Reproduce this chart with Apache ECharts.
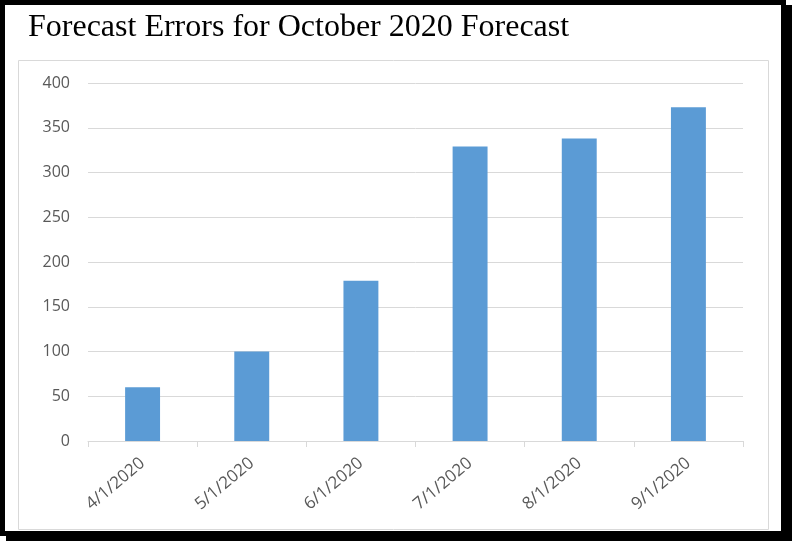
<!DOCTYPE html>
<html>
<head>
<meta charset="utf-8">
<script src="https://cdn.jsdelivr.net/npm/echarts@6/dist/echarts.min.js"></script>
<style>
    html, body { margin: 0; padding: 0; background: #fff; }
    #frame {
        position: absolute; left: 0; top: 0;
        width: 786px; height: 536px;
        box-sizing: border-box;
        border: 5px solid #000;
        box-shadow: 6px 5px 0 #000;
    }
    #chart { position: absolute; left: 0; top: 0; width: 792px; height: 541px; }
</style>
</head>
<body>
<div id="frame"></div>
<div id="chart"></div>
<script>
var titleText = "Forecast Errors for October 2020 Forecast";
var dates = ["4/1/2020", "5/1/2020", "6/1/2020", "7/1/2020", "8/1/2020", "9/1/2020"];
var errors = [60, 100, 179, 329, 338, 373];
var yTicks = [0, 50, 100, 150, 200, 250, 300, 350, 400];

var h = echarts.init(document.getElementById("chart"));
var option = {
    animation: false,
    title: {
        text: titleText,
        left: 23,
        top: 7,
        textStyle: {
            fontFamily: "Liberation Serif",
            fontWeight: "normal",
            fontSize: 32,
            color: "#000"
        }
    },
    graphic: [{
        type: "rect",
        shape: { x: 18.5, y: 60.5, width: 750, height: 469 },
        style: { fill: "none", stroke: "#d9d9d9", lineWidth: 1 },
        silent: true
    }],
    grid: {
        left: 88,
        right: 49,
        top: 83,
        bottom: 100
    },
    xAxis: {
        type: "category",
        data: dates,
        axisLine: { lineStyle: { color: "#d9d9d9" } },
        axisTick: { show: true, length: 6, lineStyle: { color: "#d9d9d9" } },
        axisLabel: {
            rotate: 40,
            margin: 20,
            color: "#595959",
            fontFamily: "Open Sans",
            fontSize: 17
        }
    },
    yAxis: {
        type: "value",
        min: yTicks[0],
        max: yTicks[yTicks.length - 1],
        interval: 50,
        axisLine: { show: false },
        axisTick: { show: false },
        splitLine: { lineStyle: { color: "#d9d9d9" } },
        axisLabel: {
            margin: 18,
            color: "#595959",
            fontFamily: "Open Sans",
            fontSize: 16
        }
    },
    series: [{
        type: "bar",
        data: errors,
        barWidth: "32%",
        itemStyle: { color: "#5b9bd5" }
    }]
};
h.setOption(option);
</script>
</body>
</html>
